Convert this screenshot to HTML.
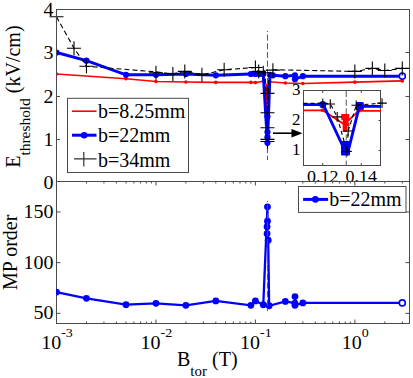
<!DOCTYPE html>
<html><head><meta charset="utf-8"><style>html,body{margin:0;padding:0;background:#fff;overflow:hidden}svg{display:block}</style></head>
<body>
<svg width="413" height="378" viewBox="0 0 413 378" font-family="&quot;Liberation Serif&quot;, serif">
<rect width="413" height="378" fill="#fff"/>
<defs><clipPath id="ct"><rect x="56" y="9" width="354" height="173"/></clipPath><clipPath id="cb"><rect x="56" y="181" width="354" height="143"/></clipPath><clipPath id="ci"><rect x="303" y="90" width="78" height="76"/></clipPath></defs>
<path d="M56.5 181.5v4M86.44 181.5v2M103.95 181.5v2M116.37 181.5v2M126.01 181.5v2M133.89 181.5v2M140.55 181.5v2M146.31 181.5v2M151.4 181.5v2M155.95 181.5v4M185.89 181.5v2M203.4 181.5v2M215.82 181.5v2M225.46 181.5v2M233.34 181.5v2M240 181.5v2M245.76 181.5v2M250.85 181.5v2M255.4 181.5v4M285.34 181.5v2M302.85 181.5v2M315.27 181.5v2M324.91 181.5v2M332.79 181.5v2M339.45 181.5v2M345.21 181.5v2M350.3 181.5v2M354.85 181.5v4M384.79 181.5v2M402.3 181.5v2" stroke="#4a4a4a" stroke-width="1" fill="none"/>
<path d="M56.5 323.5v-4M86.44 323.5v-2M103.95 323.5v-2M116.37 323.5v-2M126.01 323.5v-2M133.89 323.5v-2M140.55 323.5v-2M146.31 323.5v-2M151.4 323.5v-2M155.95 323.5v-4M185.89 323.5v-2M203.4 323.5v-2M215.82 323.5v-2M225.46 323.5v-2M233.34 323.5v-2M240 323.5v-2M245.76 323.5v-2M250.85 323.5v-2M255.4 323.5v-4M285.34 323.5v-2M302.85 323.5v-2M315.27 323.5v-2M324.91 323.5v-2M332.79 323.5v-2M339.45 323.5v-2M345.21 323.5v-2M350.3 323.5v-2M354.85 323.5v-4M384.79 323.5v-2M402.3 323.5v-2" stroke="#4a4a4a" stroke-width="1" fill="none"/>
<path d="M56.5 52.5h3.5M409.5 52.5h-4M56.5 96.5h3.5M409.5 96.5h-4M56.5 139.5h3.5M409.5 139.5h-4" stroke="#4a4a4a" stroke-width="1"/>
<path d="M56.5 313.36h4M409.5 313.36h-4M56.5 262.64h4M409.5 262.64h-4M56.5 211.93h4M409.5 211.93h-4" stroke="#4a4a4a" stroke-width="1"/>
<g clip-path="url(#ct)">
<polyline points="56.5,74 126.01,78.73 155.95,81.52 185.89,81.95 215.82,82.38 250.85,82.38 255.4,82.6 263.27,81.31 266.9,99.8 267.46,99.8 267.55,97.65 269.5,81.74 285.34,83.03 302.85,83.46 354.85,82.17 402.3,80.88" fill="none" stroke="#f00" stroke-width="1.6"/>
<circle cx="56.5" cy="74" r="1.8" fill="#f00"/>
<circle cx="126.01" cy="78.73" r="1.8" fill="#f00"/>
<circle cx="155.95" cy="81.52" r="1.8" fill="#f00"/>
<circle cx="185.89" cy="81.95" r="1.8" fill="#f00"/>
<circle cx="215.82" cy="82.38" r="1.8" fill="#f00"/>
<circle cx="250.85" cy="82.38" r="1.8" fill="#f00"/>
<circle cx="255.4" cy="82.6" r="1.8" fill="#f00"/>
<circle cx="263.27" cy="81.31" r="1.8" fill="#f00"/>
<circle cx="269.5" cy="81.74" r="1.8" fill="#f00"/>
<circle cx="285.34" cy="83.03" r="1.8" fill="#f00"/>
<circle cx="302.85" cy="83.46" r="1.8" fill="#f00"/>
<circle cx="354.85" cy="82.17" r="1.8" fill="#f00"/>
<circle cx="402.3" cy="80.88" r="1.8" fill="#f00"/>
<path d="M267.46 83.5V110" stroke="#f00" stroke-width="4"/>
<polyline points="56.5,52.5 86.44,60.67 126.01,74.86 155.95,74.86 185.89,74 215.82,75.29 250.85,74 255.4,74 259.52,74 263.27,74 267.46,142.8 269.93,74.86 272.91,75.29 285.34,76.15 294.98,75.29 294.98,79.16 302.85,76.15 402.3,76.15" fill="none" stroke="#00f" stroke-width="3"/>
<circle cx="56.5" cy="52.5" r="3.1" fill="#00f"/>
<circle cx="86.44" cy="60.67" r="3.1" fill="#00f"/>
<circle cx="126.01" cy="74.86" r="3.1" fill="#00f"/>
<circle cx="155.95" cy="74.86" r="3.1" fill="#00f"/>
<circle cx="185.89" cy="74" r="3.1" fill="#00f"/>
<circle cx="215.82" cy="75.29" r="3.1" fill="#00f"/>
<circle cx="250.85" cy="74" r="3.1" fill="#00f"/>
<circle cx="255.4" cy="74" r="3.1" fill="#00f"/>
<circle cx="259.52" cy="74" r="3.1" fill="#00f"/>
<circle cx="263.27" cy="74" r="3.1" fill="#00f"/>
<circle cx="269.93" cy="74.86" r="3.1" fill="#00f"/>
<circle cx="272.91" cy="75.29" r="3.1" fill="#00f"/>
<circle cx="285.34" cy="76.15" r="3.1" fill="#00f"/>
<circle cx="294.98" cy="75.29" r="3.1" fill="#00f"/>
<circle cx="294.98" cy="79.16" r="3.1" fill="#00f"/>
<circle cx="302.85" cy="76.15" r="3.1" fill="#00f"/>
<circle cx="267.46" cy="116.57" r="3.1" fill="#00f"/>
<circle cx="267.46" cy="132.05" r="3.1" fill="#00f"/>
<circle cx="267.46" cy="137.21" r="3.1" fill="#00f"/>
<circle cx="267.46" cy="142.8" r="3.1" fill="#00f"/>
<circle cx="402.3" cy="76.15" r="3" fill="#fff" stroke="#00f" stroke-width="1.6"/>
<polyline points="56.5,16.81 74.01,48.2 86.44,66.26 155.95,71.85 172.88,74 184.79,71.42 201.94,74.86 224.15,69.7 255.4,67.55 258.72,71.42 263.27,72.71 264.69,70.99 266.06,90.77 267.46,93.35 267.46,112.7 267.46,127.75 267.46,139.36 267.46,141.51 267.72,110.55 268.81,74.86 272.91,69.7 354.85,71.42 372.36,68.41 384.79,70.56 402.3,68.41" fill="none" stroke="#000" stroke-width="1.1" stroke-dasharray="5,3"/>
</g>
<path d="M267.46 31V160" stroke="#555" stroke-width="1" stroke-dasharray="6,2.65" stroke-dashoffset="5" fill="none"/>
<path d="M49.5 16.81h14M56.5 9.81v14M67.01 48.2h14M74.01 41.2v14M79.44 66.26h14M86.44 59.26v14M148.95 72.71h14M155.95 65.71v14M165.88 74h14M172.88 67v14M177.79 71.42h14M184.79 64.42v14M194.94 74.86h14M201.94 67.86v14M217.15 69.7h14M224.15 62.7v14M248.4 67.55h14M255.4 60.55v14M251.72 71.42h14M258.72 64.42v14M256.27 72.71h14M263.27 65.71v14M265.91 70.13h14M272.91 63.13v14M260.46 93.35h14M267.46 86.35v14M260.46 112.7h14M267.46 105.7v14M260.46 127.75h14M267.46 120.75v14M260.46 139.36h14M267.46 132.36v14M260.46 141.51h14M267.46 134.51v14M347.85 71.42h14M354.85 64.42v14M365.36 68.41h14M372.36 61.41v14M377.79 70.56h14M384.79 63.56v14M395.3 68.41h14M402.3 61.41v14" stroke="#000" stroke-width="1.1" fill="none"/>
<path d="M273 133.2H293" stroke="#000" stroke-width="1.6"/>
<path d="M291.5 129L302.5 133.2L291.5 137.4Z" fill="#000"/>
<rect x="303.5" y="90.5" width="77" height="75" fill="#fff" stroke="#4a4a4a" stroke-width="1"/>
<path d="M322.75 165.5v-2.5M322.75 90.5v2.5M361.25 165.5v-2.5M361.25 90.5v2.5M380.5 150.5h-2M380.5 120.5h-2" stroke="#4a4a4a" stroke-width="1"/>
<path d="M346.24 91V165" stroke="#555" stroke-width="1" stroke-dasharray="6,2.7"/>
<g clip-path="url(#ci)">
<polyline points="293.88,110.3 322.75,110.3 342.96,123.5 346.24,123.5 346.81,122 358.56,110.9 390.12,110.9" fill="none" stroke="#f00" stroke-width="1.8"/>
<rect x="341.3" y="114" width="8" height="6" fill="#f00"/><rect x="342.7" y="114" width="4.4" height="18" fill="#f00"/><rect x="343" y="122.5" width="6.5" height="3.5" fill="#f00"/>
<rect x="320.75" y="108.8" width="4" height="3" fill="#f00"/>
<rect x="356.56" y="109.4" width="4" height="3" fill="#f00"/>
<polyline points="293.88,104.6 322.75,104.6 323.71,105.5 346.24,153.5 347.58,153.5 359.33,106.4 390.12,106.4" fill="none" stroke="#00f" stroke-width="2.9" stroke-linejoin="round"/>
<circle cx="322.75" cy="104.6" r="3.6" fill="#00f"/>
<rect x="341" y="141" width="9" height="14.6" rx="1" fill="#00f"/>
<rect x="355.9" y="102.1" width="8" height="8" rx="1.5" fill="#00f"/>
<polyline points="303.5,103.4 322.75,103.4 330.26,104 337.19,116.9 347,151.4 348.16,131 356.25,105.2 382.04,103.1" fill="none" stroke="#000" stroke-width="1.1" stroke-dasharray="4,3"/>
</g>
<path d="M317.95 103.4h9.6M322.75 98.6v9.6M325.46 104h9.6M330.26 99.2v9.6M332.39 116.9h9.6M337.19 112.1v9.6M343.36 131h9.6M348.16 126.2v9.6M342.2 151.4h9.6M347 146.6v9.6M351.44 105.2h9.6M356.25 100.4v9.6M377.24 103.1h9.6M382.04 98.3v9.6" stroke="#000" stroke-width="1.1" fill="none"/>
<text x="300.5" y="94.9" font-size="17" text-anchor="end">3</text>
<text x="300.5" y="124.9" font-size="17" text-anchor="end">2</text>
<text x="300.5" y="154.9" font-size="17" text-anchor="end">1</text>
<text transform="translate(322.75 182.1) scale(1 0.92)" font-size="18" text-anchor="middle">0.12</text>
<text transform="translate(361.25 182.1) scale(1 0.92)" font-size="18" text-anchor="middle">0.14</text>
<rect x="67.5" y="98.3" width="121" height="74.2" fill="#fff" stroke="#4a4a4a" stroke-width="1"/>
<path d="M72 111.2H96.5" stroke="#f00" stroke-width="1.6"/>
<path d="M72 135.2H96.5" stroke="#00f" stroke-width="3"/><circle cx="84.2" cy="135.2" r="3.3" fill="#00f"/>
<path d="M74 158.9H96.5M83.8 152v14.6" stroke="#333" stroke-width="1.2"/>
<text x="98" y="117.9" font-size="20">b=8.25mm</text>
<text x="98" y="142" font-size="20">b=22mm</text>
<text x="98" y="167.1" font-size="20">b=34mm</text>
<rect x="56.5" y="181.5" width="353" height="142" fill="none" stroke="#4a4a4a" stroke-width="1"/>
<rect x="56.5" y="9.5" width="353" height="172" fill="none" stroke="#4a4a4a" stroke-width="1"/>
<g clip-path="url(#cb)">
<polyline points="56.5,292.06 86.44,298.35 126.01,304.63 155.95,303.32 185.89,305.34 215.82,300.88 250.85,305.34 255.4,300.88 263.27,304.74 267.46,206.86 267.46,221.26 267.06,226.64 267.06,233.74 268.2,240.13 269.15,305.75 285.34,301.39 294.98,303.21 294.98,296.62 294.98,305.24 302.85,302.91 354.85,302.91 402.3,302.91" fill="none" stroke="#00f" stroke-width="2.3"/>
<circle cx="56.5" cy="292.06" r="3.4" fill="#00f"/>
<circle cx="86.44" cy="298.35" r="3.4" fill="#00f"/>
<circle cx="126.01" cy="304.63" r="3.4" fill="#00f"/>
<circle cx="155.95" cy="303.32" r="3.4" fill="#00f"/>
<circle cx="185.89" cy="305.34" r="3.4" fill="#00f"/>
<circle cx="215.82" cy="300.88" r="3.4" fill="#00f"/>
<circle cx="250.85" cy="305.34" r="3.4" fill="#00f"/>
<circle cx="255.4" cy="300.88" r="3.4" fill="#00f"/>
<circle cx="263.27" cy="304.74" r="3.4" fill="#00f"/>
<circle cx="267.46" cy="206.86" r="3.4" fill="#00f"/>
<circle cx="267.46" cy="221.26" r="3.4" fill="#00f"/>
<circle cx="267.06" cy="226.64" r="3.4" fill="#00f"/>
<circle cx="267.06" cy="233.74" r="3.4" fill="#00f"/>
<circle cx="268.2" cy="240.13" r="3.4" fill="#00f"/>
<circle cx="269.15" cy="305.75" r="3.4" fill="#00f"/>
<circle cx="285.34" cy="301.39" r="3.4" fill="#00f"/>
<circle cx="294.98" cy="303.21" r="3.4" fill="#00f"/>
<circle cx="294.98" cy="296.62" r="3.4" fill="#00f"/>
<circle cx="294.98" cy="305.24" r="3.4" fill="#00f"/>
<circle cx="302.85" cy="302.91" r="3.4" fill="#00f"/>
<circle cx="402.3" cy="302.91" r="3" fill="#fff" stroke="#00f" stroke-width="1.6"/>
</g>
<path d="M267.46 201V311" stroke="#555" stroke-width="1" stroke-dasharray="6,2.65" stroke-dashoffset="5" fill="none"/>
<rect x="298.5" y="186.5" width="107.5" height="25.9" fill="#fff" stroke="#4a4a4a" stroke-width="1"/>
<path d="M303.1 199.4H328.1" stroke="#00f" stroke-width="3"/><circle cx="315.4" cy="199.4" r="3.3" fill="#00f"/>
<text x="329.2" y="206.2" font-size="20">b=22mm</text>
<text transform="translate(53.5 16) scale(1 0.96)" font-size="20" text-anchor="end">4</text>
<text transform="translate(53.5 58.9) scale(1 0.96)" font-size="20" text-anchor="end">3</text>
<text transform="translate(53.5 102.9) scale(1 0.96)" font-size="20" text-anchor="end">2</text>
<text transform="translate(53.5 145.5) scale(1 0.96)" font-size="20" text-anchor="end">1</text>
<text transform="translate(53.5 189.1) scale(1 0.96)" font-size="20" text-anchor="end">0</text>
<text transform="translate(53.5 218) scale(1 0.96)" font-size="20" text-anchor="end">150</text>
<text transform="translate(53.5 268.6) scale(1 0.96)" font-size="20" text-anchor="end">100</text>
<text transform="translate(53.5 319.2) scale(1 0.96)" font-size="20" text-anchor="end">50</text>
<text transform="translate(57 349.4) scale(1 0.96)" font-size="20" text-anchor="middle">10<tspan font-size="14" dy="-12.7">-3</tspan></text>
<text transform="translate(156.45 349.4) scale(1 0.96)" font-size="20" text-anchor="middle">10<tspan font-size="14" dy="-12.7">-2</tspan></text>
<text transform="translate(255.9 349.4) scale(1 0.96)" font-size="20" text-anchor="middle">10<tspan font-size="14" dy="-12.7">-1</tspan></text>
<text transform="translate(355.35 349.4) scale(1 0.96)" font-size="20" text-anchor="middle">10<tspan font-size="14" dy="-12.7">0</tspan></text>
<text x="177" y="365.5" font-size="20">B<tspan font-size="15" dy="10.3">tor</tspan><tspan dy="-10.3"> (T)</tspan></text>
<text transform="translate(19.8 167.7) rotate(-90)" font-size="20">E<tspan font-size="15.4" dy="10.3">threshold</tspan><tspan dy="-10.3"> (kV/cm)</tspan></text>
<text transform="translate(16.9 290) rotate(-90)" font-size="20">MP order</text>
</svg>
</body></html>
